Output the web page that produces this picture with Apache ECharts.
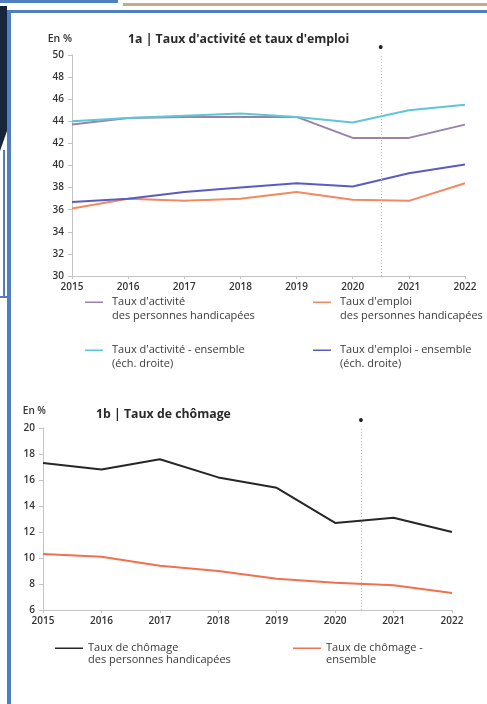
<!DOCTYPE html>
<html>
<head>
<meta charset="utf-8">
<script src="https://cdn.jsdelivr.net/npm/echarts@6/dist/echarts.min.js"></script>
<style>
  html, body { margin: 0; padding: 0; background: #fff; width: 487px; height: 704px; overflow: hidden; }
  #chart { position: absolute; left: 0; top: 0; width: 487px; height: 704px; }
  .deco { position: absolute; }
</style>
</head>
<body>
<div class="deco" style="left:0;top:0;width:118px;height:3px;background:#4f7fbf;"></div>
<div class="deco" style="left:123px;top:3px;width:364px;height:3px;background:#c2ad86;"></div>
<div class="deco" style="left:0;top:6px;width:7px;height:125px;background:#17253d;"></div>
<div class="deco" style="left:0;top:131px;width:0;height:0;border-left:7px solid #17253d;border-bottom:20px solid transparent;"></div>
<div class="deco" style="left:7px;top:10px;width:480px;height:3px;background:#4f7fbf;"></div>
<div class="deco" style="left:7px;top:10px;width:4px;height:694px;background:#4f7fbf;"></div>
<div class="deco" style="left:3px;top:150px;width:2px;height:148px;background:#4f7fbf;"></div>
<div class="deco" style="left:0;top:296px;width:7px;height:2px;background:#4f7fbf;"></div>
<div id="chart"></div>
<script>
// ---- Data ----
const years = [2015, 2016, 2017, 2018, 2019, 2020, 2021, 2022];
const actPH  = [43.7, 44.3, 44.4, 44.4, 44.4, 42.5, 42.5, 43.7];
const actEns = [44.0, 44.3, 44.5, 44.7, 44.4, 43.9, 45.0, 45.5];
const empPH  = [36.1, 37.0, 36.8, 37.0, 37.6, 36.9, 36.8, 38.4];
const empEns = [36.7, 37.0, 37.6, 38.0, 38.4, 38.1, 39.3, 40.1];
const chomPH  = [17.3, 16.8, 17.6, 16.2, 15.4, 12.7, 13.1, 12.0];
const chomEns = [10.3, 10.1, 9.4, 9.0, 8.4, 8.1, 7.9, 7.3];
const breakYears = [2020.5, 2020.44];

const names = {
  actPH: "Taux d'activité\ndes personnes handicapées",
  empPH: "Taux d'emploi\ndes personnes handicapées",
  actEns: "Taux d'activité - ensemble\n(éch. droite)",
  empEns: "Taux d'emploi - ensemble\n(éch. droite)",
  chomPH: "Taux de chômage\ndes personnes handicapées",
  chomEns: "Taux de chômage -\nensemble"
};
const colors = {
  actPH: '#9783ab', empPH: '#f08a62', actEns: '#5ec6d6', empEns: '#5a5cc4',
  chomPH: '#262626', chomEns: '#f07050'
};
const seriesData = { actPH, actEns, empPH, empEns, chomPH, chomEns };

const FONT = "'Open Sans', 'Noto Sans', sans-serif";
const pairs = arr => years.map((y, i) => [y, arr[i]]);

function lineSeries(key, idx, withBreak) {
  const s = {
    name: names[key], type: 'line', xAxisIndex: idx, yAxisIndex: idx,
    data: pairs(seriesData[key]), showSymbol: false, symbol: 'none',
    lineStyle: { color: colors[key], width: 2 }, itemStyle: { color: colors[key] },
    z: 3
  };
  if (withBreak) {
    s.markLine = {
      silent: true, symbol: 'none',
      lineStyle: { color: '#b5b5b5', type: [1, 2], width: 1 },
      label: { show: true, position: 'end', formatter: '•', color: '#222', fontSize: 14, distance: 0 },
      data: [{ xAxis: breakYears[idx] }]
    };
  }
  return s;
}

const legendIconTop = 'path://M0,0h0.01v0.01h-0.01Z M0,5.5h18v1.6h-18Z M21.99,25.99h0.01v0.01h-0.01Z';
const legendIconBot = 'path://M0,0h0.01v0.01h-0.01Z M0,5.5h28v1.6h-28Z M27.99,23.99h0.01v0.01h-0.01Z';
const legendText = { fontFamily: FONT, fontSize: 11, color: '#3a3a3a', lineHeight: 14 };
function legendItem(name, left, top, opts) {
  return Object.assign({
    data: [name], left: left, top: top, orient: 'vertical', selectedMode: false,
    itemWidth: 22, itemHeight: 26, icon: legendIconTop, padding: 0,
    textStyle: legendText
  }, opts || {});
}
const botLegend = { itemWidth: 28, itemHeight: 24, icon: legendIconBot,
  textStyle: Object.assign({}, legendText, { lineHeight: 12 }) };

const axisLabel = { fontFamily: FONT, fontSize: 10, color: '#333', fontWeight: 600 };
const axisLine = { show: true, lineStyle: { color: '#c4c4c4', width: 1 } };
const axisTick = { show: true, length: 3, lineStyle: { color: '#c4c4c4' } };
const titleStyle = { fontFamily: FONT, fontSize: 12.3, fontWeight: 'bold', color: '#2a2a2a' };
const nameStyle = { fontFamily: FONT, fontSize: 10.5, fontWeight: 600, color: '#333', align: 'right' };

const option = {
  animation: false,
  title: [
    { text: "1a | Taux d'activité et taux d'emploi", left: 123, top: 28, textStyle: titleStyle },
    { text: '1b | Taux de chômage', left: 91, top: 403, textStyle: titleStyle }
  ],
  grid: [
    { left: 72, right: 22, top: 55, height: 221, containLabel: false },
    { left: 43, right: 35, top: 428, height: 182, containLabel: false }
  ],
  xAxis: [0, 1].map(i => ({
    type: 'value', gridIndex: i, min: 2015, max: 2022, interval: 1,
    axisLine, axisTick, splitLine: { show: false },
    axisLabel: Object.assign({}, axisLabel, { margin: 6, formatter: v => String(v) })
  })),
  yAxis: [
    { type: 'value', gridIndex: 0, min: 30, max: 50, interval: 2,
      name: 'En %', nameLocation: 'end', nameGap: 10, nameTextStyle: nameStyle,
      axisLine, axisTick: Object.assign({}, axisTick, { length: 4 }), splitLine: { show: false },
      axisLabel: Object.assign({}, axisLabel, { margin: 8 }) },
    { type: 'value', gridIndex: 1, min: 6, max: 20, interval: 2,
      name: 'En %', nameLocation: 'end', nameGap: 12,
      nameTextStyle: Object.assign({}, nameStyle, { fontSize: 10, padding: [0, -3, 0, 0] }),
      axisLine, axisTick: Object.assign({}, axisTick, { length: 4 }), splitLine: { show: false },
      axisLabel: Object.assign({}, axisLabel, { margin: 8 }) }
  ],
  legend: [
    legendItem(names.actPH, 85, 295),
    legendItem(names.empPH, 313, 295),
    legendItem(names.actEns, 85, 343),
    legendItem(names.empEns, 313, 343),
    legendItem(names.chomPH, 55, 642, botLegend),
    legendItem(names.chomEns, 293, 642, botLegend)
  ],
  series: [
    lineSeries('empPH', 0, true),
    lineSeries('empEns', 0, false),
    lineSeries('actPH', 0, false),
    lineSeries('actEns', 0, false),
    lineSeries('chomEns', 1, true),
    lineSeries('chomPH', 1, false)
  ]
};

const chart = echarts.init(document.getElementById('chart'), null, { renderer: 'canvas' });
chart.setOption(option);
</script>
</body>
</html>
